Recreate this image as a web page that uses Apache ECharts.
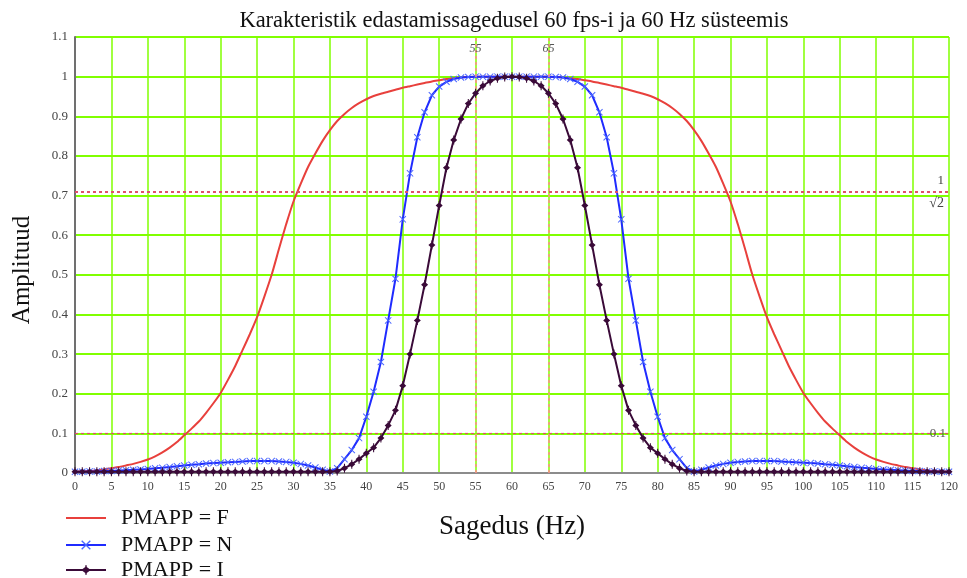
<!DOCTYPE html>
<html>
<head>
<meta charset="utf-8">
<script src="https://cdn.jsdelivr.net/npm/echarts@6/dist/echarts.min.js"></script>
<style>
  html, body { margin: 0; padding: 0; background: #ffffff; }
  #chart { width: 967px; height: 578px; }
</style>
</head>
<body>
<div id="chart"></div>
<script>
// Sample frequencies (Hz)
const freq = [
  0, 1, 2, 3, 4, 5, 6, 7, 8, 9, 10, 11, 12, 13, 14, 15, 16, 17, 18, 19,
  20, 21, 22, 23, 24, 25, 26, 27, 28, 29, 30, 31, 32, 33, 34, 35, 36, 37, 38, 39,
  40, 41, 42, 43, 44, 45, 46, 47, 48, 49, 50, 51, 52, 53, 54, 55, 56, 57, 58, 59,
  60, 61, 62, 63, 64, 65, 66, 67, 68, 69, 70, 71, 72, 73, 74, 75, 76, 77, 78, 79,
  80, 81, 82, 83, 84, 85, 86, 87, 88, 89, 90, 91, 92, 93, 94, 95, 96, 97, 98, 99,
  100, 101, 102, 103, 104, 105, 106, 107, 108, 109, 110, 111, 112, 113, 114, 115, 116, 117, 118, 119,
  120
];

// PMAPP = F
const ampF = [
  0.003, 0.004, 0.005, 0.007, 0.009, 0.012, 0.015, 0.019, 0.023, 0.028,
  0.034, 0.042, 0.052, 0.064, 0.078, 0.095, 0.112, 0.130, 0.152, 0.176,
  0.202, 0.235, 0.270, 0.310, 0.350, 0.393, 0.445, 0.500, 0.565, 0.628,
  0.685, 0.730, 0.772, 0.806, 0.838, 0.865, 0.888, 0.906, 0.921, 0.933,
  0.943, 0.951, 0.957, 0.962, 0.967, 0.972, 0.976, 0.980, 0.984, 0.988,
  0.991, 0.994, 0.996, 0.998, 0.999, 1.000, 1.000, 1.000, 1.000, 1.000,
  1.000,
  1.000, 1.000, 1.000, 1.000, 1.000, 0.999, 0.998, 0.996, 0.994, 0.991,
  0.988, 0.984, 0.980, 0.976, 0.972, 0.967, 0.962, 0.957, 0.951, 0.943,
  0.933, 0.921, 0.906, 0.888, 0.865, 0.838, 0.806, 0.772, 0.730, 0.685,
  0.628, 0.565, 0.500, 0.445, 0.393, 0.350, 0.310, 0.270, 0.235, 0.202,
  0.176, 0.152, 0.130, 0.112, 0.095, 0.078, 0.064, 0.052, 0.042, 0.034,
  0.028, 0.023, 0.019, 0.015, 0.012, 0.009, 0.007, 0.005, 0.004, 0.003
];

// PMAPP = N
const ampN = [
  0.003, 0.003, 0.004, 0.004, 0.005, 0.005, 0.006, 0.007, 0.008, 0.009,
  0.010, 0.012, 0.013, 0.015, 0.017, 0.019, 0.021, 0.022, 0.024, 0.025,
  0.026, 0.027, 0.028, 0.029, 0.030, 0.030, 0.030, 0.030, 0.029, 0.028,
  0.026, 0.023, 0.019, 0.014, 0.008, 0.004, 0.012, 0.035, 0.058, 0.088,
  0.142, 0.205, 0.280, 0.385, 0.490, 0.640, 0.756, 0.847, 0.910, 0.953,
  0.975, 0.987, 0.994, 0.998, 0.999, 1.000, 1.000, 1.000, 1.000, 1.000,
  1.000,
  1.000, 1.000, 1.000, 1.000, 1.000, 0.999, 0.998, 0.994, 0.987, 0.975,
  0.953, 0.910, 0.847, 0.756, 0.640, 0.490, 0.385, 0.280, 0.205, 0.142,
  0.088, 0.058, 0.035, 0.012, 0.004, 0.008, 0.014, 0.019, 0.023, 0.026,
  0.028, 0.029, 0.030, 0.030, 0.030, 0.030, 0.029, 0.028, 0.027, 0.026,
  0.025, 0.024, 0.022, 0.021, 0.019, 0.017, 0.015, 0.013, 0.012, 0.010,
  0.009, 0.008, 0.007, 0.006, 0.005, 0.005, 0.004, 0.004, 0.003, 0.003
];

// PMAPP = I
const ampI = [
  0.003, 0.003, 0.003, 0.003, 0.003, 0.003, 0.003, 0.003, 0.003, 0.003,
  0.003, 0.003, 0.003, 0.003, 0.003, 0.003, 0.003, 0.003, 0.003, 0.003,
  0.003, 0.003, 0.003, 0.003, 0.003, 0.003, 0.003, 0.003, 0.003, 0.003,
  0.003, 0.003, 0.003, 0.003, 0.003, 0.003, 0.005, 0.012, 0.022, 0.035,
  0.050, 0.064, 0.088, 0.120, 0.158, 0.220, 0.300, 0.385, 0.475, 0.575,
  0.675, 0.770, 0.840, 0.893, 0.932, 0.958, 0.977, 0.989, 0.996, 0.999,
  1.000,
  0.999, 0.996, 0.989, 0.977, 0.958, 0.932, 0.893, 0.840, 0.770, 0.675,
  0.575, 0.475, 0.385, 0.300, 0.220, 0.158, 0.120, 0.088, 0.064, 0.050,
  0.035, 0.022, 0.012, 0.005, 0.003, 0.003, 0.003, 0.003, 0.003, 0.003,
  0.003, 0.003, 0.003, 0.003, 0.003, 0.003, 0.003, 0.003, 0.003, 0.003,
  0.003, 0.003, 0.003, 0.003, 0.003, 0.003, 0.003, 0.003, 0.003, 0.003,
  0.003, 0.003, 0.003, 0.003, 0.003, 0.003, 0.003, 0.003, 0.003, 0.003
];

// Reference levels
const markFreqs = [55, 65];
const levelInvSqrt2 = 0.7071;
const levelTenth = 0.1;

const seriesNames = ['PMAPP = F', 'PMAPP = N', 'PMAPP = I'];
const titleText = 'Karakteristik edastamissagedusel 60 fps-i ja 60 Hz süsteemis';
const xName = 'Sagedus (Hz)';
const yName = 'Amplituud';

const SERIF = "'Liberation Serif', 'DejaVu Serif', 'Times New Roman', serif";
const pairs = arr => freq.map((f, i) => [f, arr[i]]);

const crossSymbol = 'path://M0,1 L1,0 L5,4 L9,0 L10,1 L6,5 L10,9 L9,10 L5,6 L1,10 L0,9 L4,5 Z';
const diamondSymbol = 'path://M4.4,0 L5.6,0 L5.6,2 L9,5 L5.6,8 L5.6,10 L4.4,10 L4.4,8 L1,5 L4.4,2 Z';

const chart = echarts.init(document.getElementById('chart'), null, { renderer: 'canvas' });

const dotRed = '#e0506a';
const dashPink = '#ff8a8a';

// One legend block per row, stacked under the plot on the left
const legendRowTops = [502, 529, 554];
const legends = seriesNames.map((name, i) => ({
  orient: 'vertical',
  left: 60,
  top: legendRowTops[i],
  itemWidth: 40,
  itemHeight: 12,
  data: [i === 0
    ? { name, itemStyle: { color: 'rgba(0,0,0,0)', borderWidth: 0 } }
    : { name }],
  textStyle: { fontFamily: SERIF, fontSize: 22, color: '#111', padding: [0, 0, 0, 10] }
}));

chart.setOption({
  animation: false,
  backgroundColor: '#ffffff',
  title: {
    text: titleText,
    left: 509,
    top: 5,
    textAlign: 'center',
    textStyle: { fontFamily: SERIF, fontSize: 22.5, fontWeight: 'normal', color: '#111' }
  },
  grid: { left: 75, right: 18, top: 37, bottom: 105, containLabel: false },
  legend: legends,
  xAxis: {
    type: 'value',
    min: 0, max: 120, interval: 5,
    name: xName,
    nameLocation: 'middle',
    nameGap: 40,
    nameTextStyle: { fontFamily: SERIF, fontSize: 27, color: '#111' },
    axisLine: { show: true, onZero: false, lineStyle: { color: '#8c8c8c', width: 2 } },
    axisTick: { show: false },
    axisLabel: { fontFamily: SERIF, fontSize: 12, color: '#444', margin: 8 },
    splitLine: { show: true, lineStyle: { color: '#80ff00', width: 1.5 } }
  },
  yAxis: {
    type: 'value',
    min: 0, max: 1.1, interval: 0.1,
    name: yName,
    nameLocation: 'middle',
    nameGap: 40,
    nameTextStyle: { fontFamily: SERIF, fontSize: 25, color: '#111', padding: [0, 30, 0, 0] },
    axisLine: { show: true, lineStyle: { color: '#707070', width: 2 } },
    axisTick: { show: false },
    axisLabel: {
      fontFamily: SERIF, fontSize: 13, color: '#444', margin: 7,
      formatter: v => String(+v.toFixed(1))
    },
    splitLine: { show: true, lineStyle: { color: '#80ff00', width: 2 } }
  },
  series: [
    {
      name: seriesNames[0],
      type: 'line',
      data: pairs(ampF),
      showSymbol: false,
      symbol: 'none',
      smooth: 0.2,
      lineStyle: { color: '#e8403c', width: 2 },
      itemStyle: { color: '#e8403c' },
      z: 3,
      markLine: {
        silent: true,
        symbol: 'none',
        animation: false,
        data: [
          ...markFreqs.map(f => ({
            xAxis: f,
            lineStyle: { color: dashPink, type: [3, 3], width: 1.5 },
            label: {
              formatter: String(f), position: 'end', distance: -18,
              fontFamily: SERIF, fontSize: 12, fontStyle: 'italic', color: '#555'
            }
          })),
          {
            yAxis: levelInvSqrt2,
            lineStyle: { color: dotRed, type: [3, 3], width: 2 },
            label: {
              formatter: '1', position: 'insideEndTop', distance: 5,
              fontFamily: SERIF, fontSize: 13, color: '#444'
            }
          },
          {
            yAxis: levelInvSqrt2,
            lineStyle: { color: dotRed, type: [3, 3], width: 2 },
            label: {
              formatter: '√2', position: 'insideEndBottom', distance: 5,
              fontFamily: SERIF, fontSize: 14, color: '#444'
            }
          },
          {
            yAxis: levelTenth,
            lineStyle: { color: dotRed, type: [3, 3], width: 1.2 },
            label: {
              formatter: '0.1', position: 'insideEnd', distance: 3,
              fontFamily: SERIF, fontSize: 13, color: '#555'
            }
          }
        ]
      }
    },
    {
      name: seriesNames[1],
      type: 'line',
      data: pairs(ampN),
      symbol: crossSymbol,
      symbolSize: 7,
      showAllSymbol: true,
      lineStyle: { color: '#1f2bff', width: 2 },
      itemStyle: { color: '#4a66ff' },
      z: 4
    },
    {
      name: seriesNames[2],
      type: 'line',
      data: pairs(ampI),
      symbol: diamondSymbol,
      symbolSize: [7, 9],
      showAllSymbol: true,
      lineStyle: { color: '#3a0a38', width: 2 },
      itemStyle: { color: '#3a0a38' },
      z: 5
    }
  ]
});
</script>
</body>
</html>
